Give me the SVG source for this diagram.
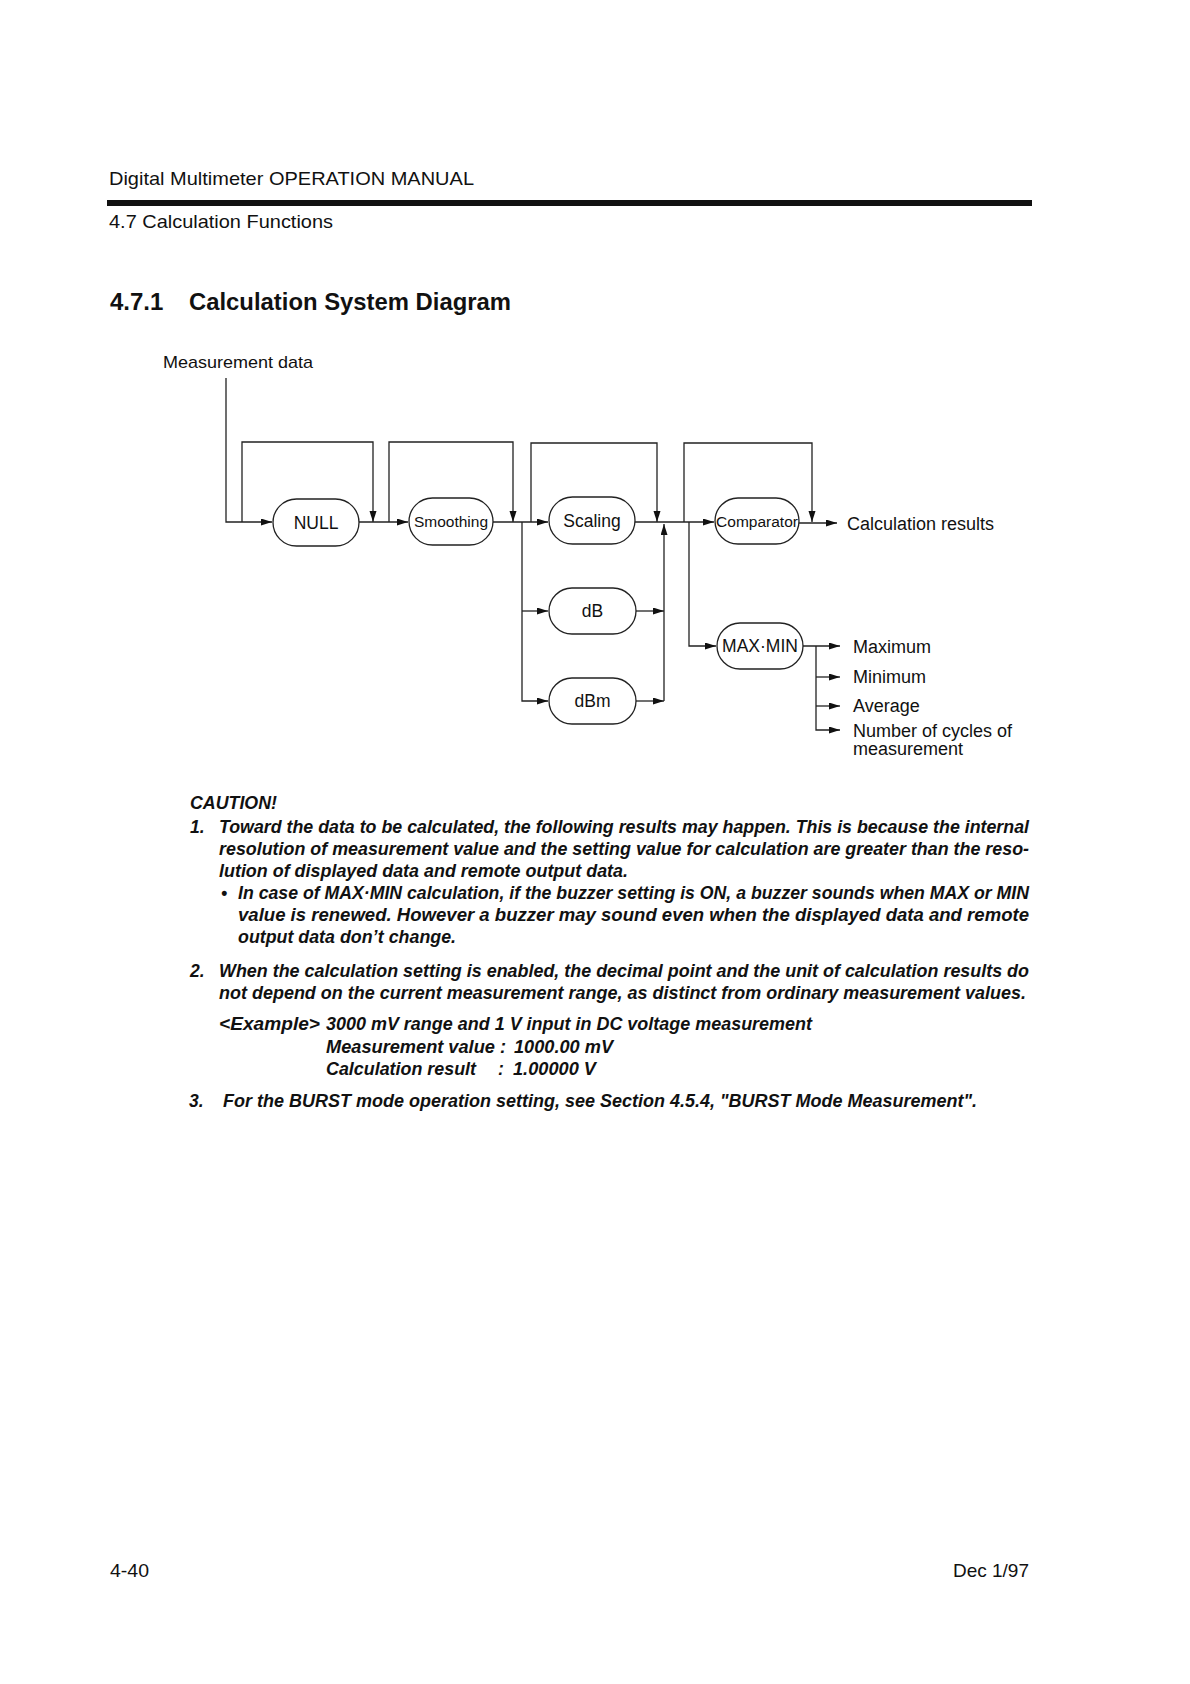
<svg xmlns="http://www.w3.org/2000/svg" width="1190" height="1684" viewBox="0 0 1190 1684">
<defs>
<marker id="ah" markerUnits="userSpaceOnUse" markerWidth="12" markerHeight="8" refX="11" refY="3.5" orient="auto">
<path d="M0,0 L11,3.5 L0,7 z" fill="#111"/>
</marker>
<style>
.t{font-family:"Liberation Sans",Arial,sans-serif;fill:#111}
.hd{font-size:19px}
.h2{font-size:24px;font-weight:bold}
.lab{font-size:18px}
.nd rect{fill:#fff;stroke:#222;stroke-width:1.3}
.nd text{font-family:"Liberation Sans",Arial,sans-serif;fill:#111;text-anchor:middle}
.c{fill:none;stroke:#222;stroke-width:1.3}
.ci{font-family:"Liberation Sans",Arial,sans-serif;font-size:17.5px;font-weight:bold;font-style:italic;fill:#111}
</style>
</defs>
<rect width="1190" height="1684" fill="#fff"/>

<!-- header -->
<text class="t hd" x="109" y="185" textLength="365" lengthAdjust="spacingAndGlyphs">Digital Multimeter OPERATION MANUAL</text>
<rect x="107" y="200" width="925" height="6" fill="#111"/>
<text class="t hd" x="109" y="228" textLength="224" lengthAdjust="spacingAndGlyphs">4.7 Calculation Functions</text>
<text class="t h2" x="110" y="310">4.7.1</text>
<text class="t h2" x="189" y="310" textLength="322" lengthAdjust="spacingAndGlyphs">Calculation System Diagram</text>

<text class="t" x="163" y="368" font-size="17" textLength="150" lengthAdjust="spacingAndGlyphs">Measurement data</text>

<!-- connectors -->
<g id="connectors">
<path class="c" d="M226,378 V522 H272" marker-end="url(#ah)"/>
<path class="c" d="M242,522 V442 H373 V522" marker-end="url(#ah)"/>
<path class="c" d="M359,522 H408" marker-end="url(#ah)"/>
<path class="c" d="M389,522 V442 H513 V522" marker-end="url(#ah)"/>
<path class="c" d="M493,522 H548" marker-end="url(#ah)"/>
<path class="c" d="M531,522 V443 H657 V522" marker-end="url(#ah)"/>
<path class="c" d="M635,522 H714" marker-end="url(#ah)"/>
<path class="c" d="M684,522 V443 H812 V522" marker-end="url(#ah)"/>
<path class="c" d="M799,523 H837" marker-end="url(#ah)"/>
<path class="c" d="M522,522 V701 H548" marker-end="url(#ah)"/>
<path class="c" d="M522,611 H548" marker-end="url(#ah)"/>
<path class="c" d="M636,611 H664" marker-end="url(#ah)"/>
<path class="c" d="M636,701 H664" marker-end="url(#ah)"/>
<path class="c" d="M664,701 V524" marker-end="url(#ah)"/>
<path class="c" d="M689,522 V646 H716" marker-end="url(#ah)"/>
<path class="c" d="M803,646 H840" marker-end="url(#ah)"/>
<path class="c" d="M816,646 V730 H840" marker-end="url(#ah)"/>
<path class="c" d="M816,677 H840" marker-end="url(#ah)"/>
<path class="c" d="M816,706 H840" marker-end="url(#ah)"/>
</g>

<!-- nodes -->
<g id="node-null" class="nd"><rect x="273" y="499" width="86" height="47" rx="23.5"/><text x="316" y="528.5" font-size="17.5">NULL</text></g>
<g id="node-smoothing" class="nd"><rect x="409" y="498" width="84" height="47" rx="23.5"/><text x="451" y="527" font-size="15.5">Smoothing</text></g>
<g id="node-scaling" class="nd"><rect x="549" y="497" width="86" height="47" rx="23.5"/><text x="592" y="527" font-size="17.5">Scaling</text></g>
<g id="node-comparator" class="nd"><rect x="715" y="498" width="84" height="46" rx="23"/><text x="757" y="527" font-size="15.5">Comparator</text></g>
<g id="node-db" class="nd"><rect x="549" y="588" width="87" height="46" rx="23"/><text x="592.5" y="617" font-size="17.5">dB</text></g>
<g id="node-dbm" class="nd"><rect x="549" y="678" width="87" height="46" rx="23"/><text x="592.5" y="707" font-size="17.5">dBm</text></g>
<g id="node-maxmin" class="nd"><rect x="717" y="623" width="86" height="46" rx="23"/><text x="760" y="652" font-size="17.5">MAX·MIN</text></g>

<!-- output labels -->
<text class="t lab" x="847" y="530">Calculation results</text>
<text class="t lab" x="853" y="653">Maximum</text>
<text class="t lab" x="853" y="683">Minimum</text>
<text class="t lab" x="853" y="712">Average</text>
<text class="t lab" x="853" y="737">Number of cycles of</text>
<text class="t lab" x="853" y="755">measurement</text>

<!-- caution -->
<text class="ci" x="190" y="809" textLength="87" lengthAdjust="spacingAndGlyphs">CAUTION!</text>
<text class="ci" x="190" y="833">1.</text>
<text class="ci" x="219" y="833" textLength="810" lengthAdjust="spacingAndGlyphs">Toward the data to be calculated, the following results may happen.  This is because the internal</text>
<text class="ci" x="219" y="855" textLength="810" lengthAdjust="spacingAndGlyphs">resolution of measurement value and the setting value for calculation are greater than the reso-</text>
<text class="ci" x="219" y="877" textLength="409" lengthAdjust="spacingAndGlyphs">lution of displayed data and remote output data.</text>
<text class="ci" x="221" y="899">•</text>
<text class="ci" x="238" y="899" textLength="791" lengthAdjust="spacingAndGlyphs">In case of MAX·MIN  calculation, if the buzzer setting is ON, a buzzer sounds when MAX or MIN</text>
<text class="ci" x="238" y="921" textLength="791" lengthAdjust="spacingAndGlyphs">value is renewed.  However a buzzer may sound even when the displayed data and remote</text>
<text class="ci" x="238" y="943" textLength="218" lengthAdjust="spacingAndGlyphs">output data don’t change.</text>

<text class="ci" x="190" y="977">2.</text>
<text class="ci" x="219" y="977" textLength="810" lengthAdjust="spacingAndGlyphs">When the calculation setting is enabled, the decimal point and the unit of calculation results do</text>
<text class="ci" x="219" y="999" textLength="807" lengthAdjust="spacingAndGlyphs">not depend on the current measurement range, as distinct from ordinary measurement values.</text>
<text class="ci" x="219" y="1030" textLength="101" lengthAdjust="spacingAndGlyphs">&lt;Example&gt;</text>
<text class="ci" x="326" y="1030" textLength="486" lengthAdjust="spacingAndGlyphs">3000 mV range and 1 V input in DC voltage measurement</text>
<text class="ci" x="326" y="1053" textLength="180" lengthAdjust="spacingAndGlyphs">Measurement value :</text>
<text class="ci" x="514" y="1053" textLength="99" lengthAdjust="spacingAndGlyphs">1000.00 mV</text>
<text class="ci" x="326" y="1075" textLength="150" lengthAdjust="spacingAndGlyphs">Calculation result</text>
<text class="ci" x="498" y="1075">:</text>
<text class="ci" x="513" y="1075" textLength="83" lengthAdjust="spacingAndGlyphs">1.00000 V</text>
<text class="ci" x="189" y="1107">3.</text>
<text class="ci" x="223" y="1107" textLength="754" lengthAdjust="spacingAndGlyphs">For the BURST mode operation setting, see Section 4.5.4, "BURST Mode Measurement".</text>

<!-- footer -->
<text class="t hd" x="110" y="1577" textLength="39" lengthAdjust="spacingAndGlyphs">4-40</text>
<text class="t hd" x="1029" y="1577" text-anchor="end">Dec 1/97</text>
</svg>
